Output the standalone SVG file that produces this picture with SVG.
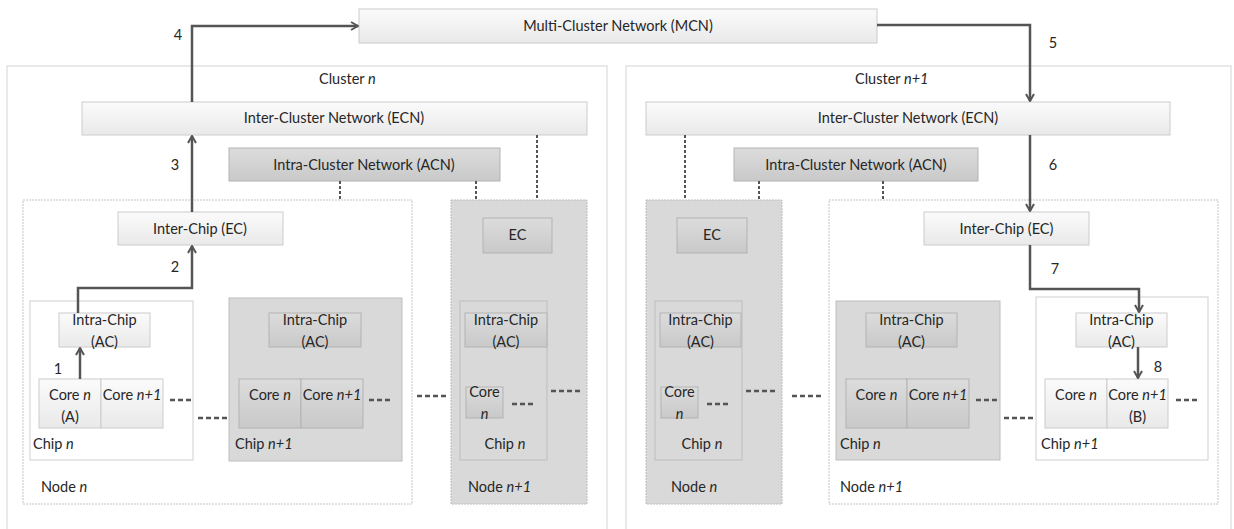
<svg xmlns="http://www.w3.org/2000/svg" width="1234" height="529" viewBox="0 0 1234 529">
<defs>
<linearGradient id="gw" x1="0" y1="0" x2="0" y2="1"><stop offset="0" stop-color="#fbfbfb"/><stop offset="1" stop-color="#e9e9e9"/></linearGradient>
<linearGradient id="gg" x1="0" y1="0" x2="0" y2="1"><stop offset="0" stop-color="#dcdcdc"/><stop offset="1" stop-color="#c9c9c9"/></linearGradient>
<marker id="ah" viewBox="0 0 10 10" refX="9" refY="5" markerWidth="10" markerHeight="10" markerUnits="userSpaceOnUse" orient="auto"><path d="M2,1 L9,5 L2,9" fill="none" stroke="#555" stroke-width="2"/></marker>
<style>
text{font-family:Lato,"Open Sans","Liberation Sans",sans-serif;font-size:14.5px;fill:#262626}
.c{text-anchor:middle}
.wb{fill:url(#gw);stroke:#cccccc;stroke-width:1}
.gb{fill:url(#gg);stroke:#b3b3b3;stroke-width:1}
.cl{fill:#ffffff;stroke:#d4d4d4;stroke-width:1}
.nw{fill:#ffffff;stroke:#c4c4c4;stroke-width:1;stroke-dasharray:2,1}
.ng{fill:#d9d9d9;stroke:#bcbcbc;stroke-width:1;stroke-dasharray:2,1}
.chw{fill:#ffffff;stroke:#cfcfcf;stroke-width:1}
.chg{fill:#d9d9d9;stroke:#bdbdbd;stroke-width:1}
.ar{fill:none;stroke:#555;stroke-width:2.5;marker-end:url(#ah)}
.dl{fill:none;stroke:#555;stroke-width:2;stroke-dasharray:3,2}
.dd{fill:none;stroke:#555;stroke-width:2.5;stroke-dasharray:5,3}
</style>
</defs>

<g id="mcn"><rect class="wb" x="359" y="9" width="518" height="34"/><text class="c" x="618" y="31">Multi-Cluster Network (MCN)</text></g>

<g id="cluster-n">
<rect class="cl" x="7" y="66" width="600" height="470"/>
<text x="319" y="84">Cluster <tspan font-style="italic">n</tspan></text>
</g>
<g id="cluster-n1">
<rect class="cl" x="626" y="66" width="605" height="470"/>
<text x="855" y="84">Cluster <tspan font-style="italic">n+1</tspan></text>
</g>

<g id="ecn-left"><rect class="wb" x="82" y="102" width="505" height="33"/><text class="c" x="334" y="123">Inter-Cluster Network (ECN)</text></g>
<g id="acn-left"><rect class="gb" x="229" y="148" width="271" height="33"/><text class="c" x="364" y="170">Intra-Cluster Network (ACN)</text></g>
<g id="ecn-right"><rect class="wb" x="646" y="102" width="524" height="33"/><text class="c" x="908" y="123">Inter-Cluster Network (ECN)</text></g>
<g id="acn-right"><rect class="gb" x="734" y="148" width="244" height="33"/><text class="c" x="856" y="170">Intra-Cluster Network (ACN)</text></g>

<!-- Left cluster, Node n -->
<g id="l-node-n">
<rect class="nw" x="23" y="200" width="389" height="304"/>
<text x="41" y="492">Node <tspan font-style="italic">n</tspan></text>
</g>
<g id="l-ec"><rect class="wb" x="118" y="212" width="165" height="33"/><text class="c" x="200" y="234">Inter-Chip (EC)</text></g>
<g id="l-chip-n">
<rect class="chw" x="30" y="301" width="163" height="159"/>
<text x="33" y="449">Chip <tspan font-style="italic">n</tspan></text>
</g>
<g id="l-chip-n-ac"><rect class="wb" x="59" y="313" width="91" height="34"/><text class="c" x="104.5" y="325">Intra-Chip</text><text class="c" x="104.5" y="347">(AC)</text></g>
<g id="l-core-a"><rect class="wb" x="39" y="379" width="62" height="49"/><text class="c" x="70" y="400">Core <tspan font-style="italic">n</tspan></text><text class="c" x="70" y="422">(A)</text></g>
<g id="l-core-a1"><rect class="wb" x="101" y="379" width="62" height="49"/><text class="c" x="132" y="400">Core <tspan font-style="italic">n+1</tspan></text></g>

<g id="l-chip-n1">
<rect class="chg" x="229" y="298" width="173" height="163"/>
<text x="235" y="449">Chip <tspan font-style="italic">n+1</tspan></text>
</g>
<g id="l-chip-n1-ac"><rect class="gb" x="269" y="313" width="92" height="34"/><text class="c" x="315" y="325">Intra-Chip</text><text class="c" x="315" y="347">(AC)</text></g>
<g id="l-core-b"><rect class="gb" x="239" y="379" width="62" height="49"/><text class="c" x="270" y="400">Core <tspan font-style="italic">n</tspan></text></g>
<g id="l-core-b1"><rect class="gb" x="301" y="379" width="62" height="49"/><text class="c" x="332" y="400">Core <tspan font-style="italic">n+1</tspan></text></g>

<!-- Left cluster, Node n+1 -->
<g id="l-node-n1">
<rect class="ng" x="451" y="200" width="136" height="304"/>
<text x="468" y="492">Node <tspan font-style="italic">n+1</tspan></text>
</g>
<g id="l-ec2"><rect class="gb" x="483" y="218" width="69" height="35"/><text class="c" x="517.5" y="240">EC</text></g>
<g id="l-chip-n2">
<rect class="chg" x="460" y="301" width="87" height="159"/>
<text class="c" x="505" y="449">Chip <tspan font-style="italic">n</tspan></text>
</g>
<g id="l-chip-n2-ac"><rect class="gb" x="465" y="313" width="82" height="34"/><text class="c" x="506" y="325">Intra-Chip</text><text class="c" x="506" y="347">(AC)</text></g>
<g id="l-core-c"><rect class="gb" x="466" y="387" width="37" height="31"/><text class="c" x="484.5" y="397">Core</text><text class="c" x="484.5" y="419" font-style="italic">n</text></g>

<!-- Right cluster, Node n -->
<g id="r-node-n">
<rect class="ng" x="646" y="200" width="136" height="304"/>
<text x="671" y="492">Node <tspan font-style="italic">n</tspan></text>
</g>
<g id="r-ec2"><rect class="gb" x="677" y="218" width="70" height="35"/><text class="c" x="712" y="240">EC</text></g>
<g id="r-chip-n2">
<rect class="chg" x="655" y="301" width="87" height="159"/>
<text class="c" x="702" y="449">Chip <tspan font-style="italic">n</tspan></text>
</g>
<g id="r-chip-n2-ac"><rect class="gb" x="660" y="313" width="81" height="34"/><text class="c" x="700.5" y="325">Intra-Chip</text><text class="c" x="700.5" y="347">(AC)</text></g>
<g id="r-core-c"><rect class="gb" x="661" y="387" width="37" height="31"/><text class="c" x="679.5" y="397">Core</text><text class="c" x="679.5" y="419" font-style="italic">n</text></g>

<!-- Right cluster, Node n+1 -->
<g id="r-node-n1">
<rect class="nw" x="829" y="200" width="389" height="304"/>
<text x="840" y="492">Node <tspan font-style="italic">n+1</tspan></text>
</g>
<g id="r-ec"><rect class="wb" x="924" y="212" width="165" height="33"/><text class="c" x="1006.5" y="234">Inter-Chip (EC)</text></g>
<g id="r-chip-n">
<rect class="chg" x="836" y="301" width="164" height="159"/>
<text x="840" y="449">Chip <tspan font-style="italic">n</tspan></text>
</g>
<g id="r-chip-n-ac"><rect class="gb" x="866" y="313" width="91" height="34"/><text class="c" x="911.5" y="325">Intra-Chip</text><text class="c" x="911.5" y="347">(AC)</text></g>
<g id="r-core-a"><rect class="gb" x="846" y="379" width="61" height="49"/><text class="c" x="876.5" y="400">Core <tspan font-style="italic">n</tspan></text></g>
<g id="r-core-a1"><rect class="gb" x="907" y="379" width="62" height="49"/><text class="c" x="938" y="400">Core <tspan font-style="italic">n+1</tspan></text></g>

<g id="r-chip-n1">
<rect class="chw" x="1036" y="297" width="172" height="163"/>
<text x="1041" y="449">Chip <tspan font-style="italic">n+1</tspan></text>
</g>
<g id="r-chip-n1-ac"><rect class="wb" x="1076" y="313" width="91" height="34"/><text class="c" x="1121.5" y="325">Intra-Chip</text><text class="c" x="1121.5" y="347">(AC)</text></g>
<g id="r-core-b"><rect class="wb" x="1045" y="379" width="62" height="49"/><text class="c" x="1076" y="400">Core <tspan font-style="italic">n</tspan></text></g>
<g id="r-core-b1"><rect class="wb" x="1107" y="379" width="61" height="49"/><text class="c" x="1137.5" y="400">Core <tspan font-style="italic">n+1</tspan></text><text class="c" x="1137.5" y="422">(B)</text></g>

<g id="connectors">
<path class="dl" d="M340,181 V200"/>
<path class="dl" d="M476,181 V200"/>
<path class="dl" d="M537,135 V200"/>
<path class="dl" d="M685,135 V200"/>
<path class="dl" d="M759,181 V200"/>
<path class="dl" d="M883,181 V200"/>

<path class="ar" d="M80,379 V348"/>
<path class="ar" d="M78,313 V288 H192 V246"/>
<path class="ar" d="M192,212 V136"/>
<path class="ar" d="M192,102 V26 H358"/>
<path class="ar" d="M877,25 H1030 V101"/>
<path class="ar" d="M1030,135 V211"/>
<path class="ar" d="M1030,245 V289 H1139 V312"/>
<path class="ar" d="M1138,347 V378"/>

<path class="dd" d="M170,400 H191"/>
<path class="dd" d="M198,418 H227"/>
<path class="dd" d="M369,400 H390"/>
<path class="dd" d="M417,396 H446"/>
<path class="dd" d="M512,404 H533"/>
<path class="dd" d="M551,391 H580"/>
<path class="dd" d="M707,404 H728"/>
<path class="dd" d="M746,391 H775"/>
<path class="dd" d="M792,396 H821"/>
<path class="dd" d="M976,400 H997"/>
<path class="dd" d="M1004,418 H1033"/>
<path class="dd" d="M1176,400 H1197"/>
</g>

<g id="labels">
<text class="c" x="178" y="40">4</text>
<text class="c" x="1053" y="48">5</text>
<text class="c" x="175" y="170">3</text>
<text class="c" x="1053" y="170">6</text>
<text class="c" x="175" y="272">2</text>
<text class="c" x="1055" y="274">7</text>
<text class="c" x="58" y="374">1</text>
<text class="c" x="1158" y="372">8</text>
</g>
</svg>
